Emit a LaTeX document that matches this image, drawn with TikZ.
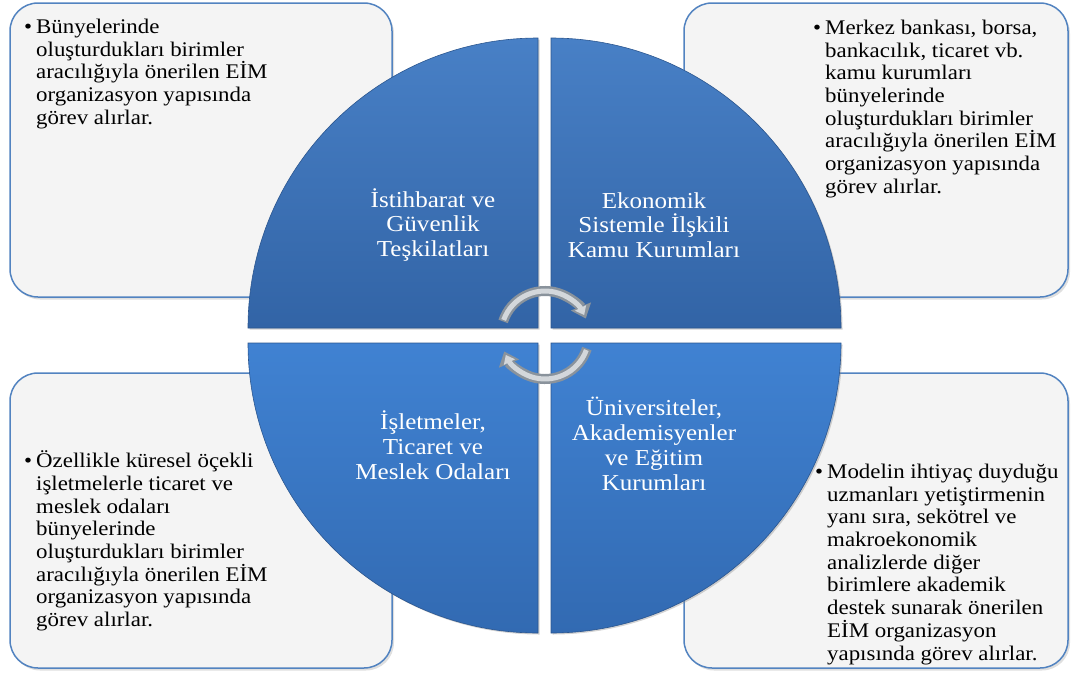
\documentclass[tikz,border=0pt]{standalone}
\usepackage{fontspec}
\setmainfont{Liberation Serif}[FakeStretch=1.1]
\usetikzlibrary{arrows.meta,shadows}
\definecolor{boxfill}{HTML}{F4F4F4}
\definecolor{boxline}{HTML}{5283C0}
\definecolor{qedge}{HTML}{2B568F}
\definecolor{uptop}{RGB}{72,128,198}
\definecolor{upbot}{RGB}{50,100,166}
\definecolor{lowtop}{RGB}{64,130,210}
\definecolor{lowbot}{RGB}{50,106,178}
\definecolor{arrdark}{HTML}{8A939C}
\definecolor{arrlight}{HTML}{D3D7DB}
\begin{document}
\begin{tikzpicture}[x=1pt,y=-1pt,
  infobox/.style={draw=boxline, line width=1.5pt, fill=boxfill, rounded corners=28pt,
    drop shadow={opacity=0.25, shadow xshift=2pt, shadow yshift=-2.5pt}},
  txt/.style={inner sep=0pt, align=left, text=black, font=\fontsize{20.8}{22.7}\selectfont},
  upquad/.style={draw=qedge, line width=0.6pt, top color=uptop, bottom color=upbot,
    drop shadow={opacity=0.35, shadow xshift=1.5pt, shadow yshift=-1.5pt}},
  lowquad/.style={draw=qedge, line width=0.6pt, top color=lowtop, bottom color=lowbot,
    drop shadow={opacity=0.35, shadow xshift=1.5pt, shadow yshift=-1.5pt}},
  lbl/.style={inner sep=0pt, align=center, text=white, font=\fontsize{22.8}{24.8}\selectfont},
  arrouter/.style={draw=arrdark, line width=10pt, -{Triangle[length=13pt,width=21pt]}},
  arrinner/.style={draw=arrlight, line width=5pt, -{Triangle[length=8pt,width=12pt]}}
]
\useasboundingbox (0,0) rectangle (1071,675);

% corner boxes
\path[infobox] (10,3) rectangle (392,297);
\path[infobox] (684,3) rectangle (1068,297);
\path[infobox] (10,373) rectangle (392,668);
\path[infobox] (684,373) rectangle (1068,668);

\node[txt, anchor=north west] (t1) at (36,18.8) {\llap{\textbullet\hspace{4pt}}Bünyelerinde\\oluşturdukları birimler\\aracılığıyla önerilen EİM\\organizasyon yapısında\\görev alırlar.};
\node[txt, anchor=north west] (t2) at (825,19.8) {\llap{\textbullet\hspace{4pt}}Merkez bankası, borsa,\\bankacılık, ticaret vb.\\kamu kurumları\\bünyelerinde\\oluşturdukları birimler\\aracılığıyla önerilen EİM\\organizasyon yapısında\\görev alırlar.};
\node[txt, anchor=north west] (t3) at (36,450.6) {\llap{\textbullet\hspace{4pt}}Özellikle küresel öçekli\\işletmelerle ticaret ve\\meslek odaları\\bünyelerinde\\oluşturdukları birimler\\aracılığıyla önerilen EİM\\organizasyon yapısında\\görev alırlar.};
\node[txt, anchor=north west] (t4) at (827,463.8) {\llap{\textbullet\hspace{4pt}}Modelin ihtiyaç duyduğu\\uzmanları yetiştirmenin\\yanı sıra, sekötrel ve\\makroekonomik\\analizlerde diğer\\birimlere akademik\\destek sunarak önerilen\\EİM organizasyon\\yapısında görev alırlar.};

% circle quadrants
\path[upquad] (538,328) -- (248,328) arc[start angle=180, end angle=270, radius=290] -- cycle;
\path[upquad] (551,328) -- (551,38) arc[start angle=270, end angle=360, radius=290] -- cycle;
\path[lowquad] (538,343) -- (538,633) arc[start angle=90, end angle=180, radius=290] -- cycle;
\path[lowquad] (551,343) -- (841,343) arc[start angle=0, end angle=90, radius=290] -- cycle;

\node[lbl] (q1) at (433,225) {İstihbarat ve\\Güvenlik\\Teşkilatları};
\node[lbl] (q2) at (654,225) {Ekonomik\\Sistemle İlşkili\\Kamu Kurumları};
\node[lbl] (q3) at (433,445) {İşletmeler,\\Ticaret ve\\Meslek Odaları};
\node[lbl] (q4) at (654,444) {Üniversiteler,\\Akademisyenler\\ve Eğitim\\Kurumları};

% central cycle arrows
\coordinate (ac) at (545,335);
\draw[arrouter] ([shift={(198:44)}]ac) arc[start angle=198, end angle=338, radius=44];
\draw[arrinner] ([shift={(200:44)}]ac) arc[start angle=200, end angle=333, radius=44];
\draw[arrouter] ([shift={(18:44)}]ac) arc[start angle=18, end angle=158, radius=44];
\draw[arrinner] ([shift={(20:44)}]ac) arc[start angle=20, end angle=153, radius=44];
\end{tikzpicture}
\end{document}
